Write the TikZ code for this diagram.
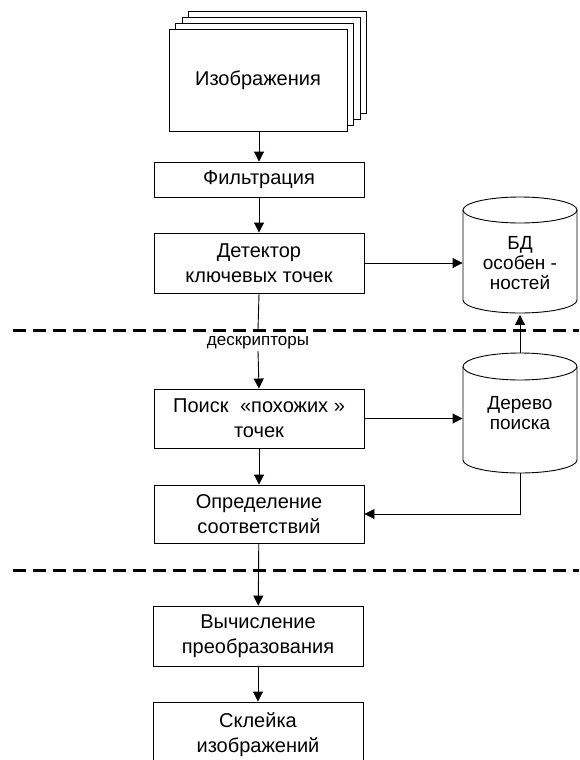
\documentclass[tikz,border=0pt]{standalone}
\usepackage{fontspec}
\setmainfont{Liberation Sans}
\usetikzlibrary{arrows.meta}
\begin{document}
\begin{tikzpicture}[x=1pt,y=-1pt,
  line width=0.9pt,
  arr/.style={-{Triangle[length=10pt,width=10pt]}},
  procbox/.style={draw, fill=white, align=center, minimum width=210pt, inner sep=0pt,
    font=\fontsize{20}{25}\selectfont},
  stackbox/.style={draw, fill=white, minimum width=178pt, minimum height=102pt, inner sep=0pt},
  cylbody/.style={draw=none, align=center, minimum width=114pt, inner sep=0pt,
    font=\fontsize{19}{20}\selectfont},
  divider/.style={line width=3pt, dash pattern=on 13pt off 7pt},
  lbl/.style={inner sep=1pt, font=\fontsize{17}{18}\selectfont}]
\useasboundingbox (0,0) rectangle (579,760);
\clip (0,0) rectangle (579,760);

% image stack
\node[stackbox] (img3) at (277.5,62) {};
\node[stackbox] (img2) at (271,68) {};
\node[stackbox] (img1) at (264.5,74) {};
\node[stackbox, font=\fontsize{20}{24}\selectfont] (img) at (258,80) {Изображения};

% process boxes
\node[procbox, minimum height=35pt] (filt) at (259,179.5) {Фильтрация};
\node[procbox, minimum height=60pt] (det) at (259,263) {Детектор\\ключевых точек};
\node[procbox, minimum height=59pt] (search) at (259,418.5) {Поиск\hspace{6pt} «похожих »\\точек};
\node[procbox, minimum height=58pt] (match) at (259,514) {Определение\\соответствий};
\node[procbox, minimum height=60pt] (calc) at (258,636) {Вычисление\\преобразования};
\node[procbox, minimum height=66pt] (stitch) at (258,735) {Склейка\\изображений};

% cylinders (shapes)
\draw[fill=white] (463,210) -- (463,300) arc[start angle=180, end angle=0, x radius=57, y radius=13] -- (577,210);
\draw (520,210) ellipse [x radius=57, y radius=13];
\node[cylbody, minimum height=103pt] (db) at (520,263) {БД\\особен -\\ностей};

\draw[fill=white] (463,366.5) -- (463,460) arc[start angle=180, end angle=0, x radius=57, y radius=13] -- (577,366.5);
\draw (520,366.5) ellipse [x radius=57, y radius=13.5];
\node[cylbody, minimum height=120pt] (tree) at (520,413) {Дерево\\поиска};

% labels and helper coordinates
\node[lbl] (desc) at (258,343) {дескрипторы};
\coordinate (cut1) at (258,330);
\coordinate (bend) at (520,514);

% connectors
\draw[arr] (img.south -| filt.north) -- (filt.north);
\draw[arr] (filt) -- (det);
\draw[arr] (det.east) -- (det.east -| db.west);
\draw (det.south) -- (cut1);
\draw[arr] (desc.south) -- (search.north);
\draw[arr] (search.east) -- (search.east -| tree.west);
\draw[arr] (tree.north) -- (db.south);
\draw[arr] (search) -- (match);
\draw[arr] (tree.south) -- (bend) -- (match.east);
\draw[arr] (match) -- (calc);
\draw[arr] (calc) -- (stitch);

% dividers
\draw[divider] (13,330) -- (579,330);
\draw[divider] (13,570) -- (579,570);
\end{tikzpicture}
\end{document}
